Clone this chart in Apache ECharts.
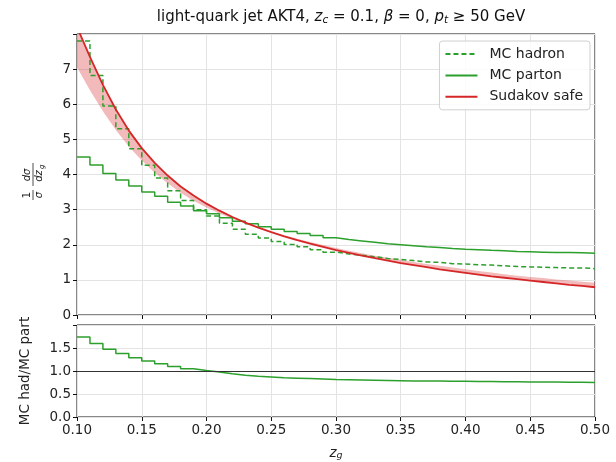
<!DOCTYPE html>
<html>
<head>
<meta charset="utf-8">
<script src="https://cdn.jsdelivr.net/npm/echarts@6/dist/echarts.min.js"></script>
<style>
  html, body { margin: 0; padding: 0; background: #fff; }
  #chart { width: 616px; height: 462px; }
</style>
</head>
<body>
<div id="chart"></div>
<script>
// bin edges / sampling points along z_g
const zEdges = [0.10, 0.11, 0.12, 0.13, 0.14, 0.15, 0.16, 0.17, 0.18, 0.19,
  0.20, 0.21, 0.22, 0.23, 0.24, 0.25, 0.26, 0.27, 0.28, 0.29,
  0.30, 0.31, 0.32, 0.33, 0.34, 0.35, 0.36, 0.37, 0.38, 0.39,
  0.40, 0.41, 0.42, 0.43, 0.44, 0.45, 0.46, 0.47, 0.48, 0.49, 0.50]

// histogram contents, one per bin
const mcHadron = [7.80, 6.82, 5.95, 5.30, 4.73, 4.26, 3.90, 3.54, 3.26, 3.00,
  2.82, 2.61, 2.44, 2.30, 2.19, 2.09, 2.01, 1.94, 1.86, 1.79,
  1.74, 1.70, 1.66, 1.61, 1.58, 1.55, 1.51, 1.50, 1.46, 1.45,
  1.43, 1.42, 1.40, 1.38, 1.37, 1.36, 1.35, 1.34, 1.34, 1.32]
const mcParton = [4.50, 4.27, 4.03, 3.84, 3.67, 3.50, 3.38, 3.21, 3.10, 2.97,
  2.88, 2.77, 2.67, 2.60, 2.51, 2.44, 2.38, 2.32, 2.26, 2.20,
  2.15, 2.11, 2.07, 2.03, 2.00, 1.97, 1.94, 1.92, 1.89, 1.87,
  1.86, 1.84, 1.83, 1.81, 1.80, 1.79, 1.78, 1.78, 1.77, 1.76]
const hadOverPart = [1.74, 1.60, 1.475, 1.38, 1.29, 1.22, 1.16, 1.10, 1.05, 1.01,
  0.98, 0.94, 0.91, 0.885, 0.87, 0.855, 0.845, 0.835, 0.825, 0.815,
  0.81, 0.805, 0.80, 0.795, 0.79, 0.785, 0.78, 0.78, 0.775, 0.775,
  0.77, 0.77, 0.765, 0.765, 0.76, 0.76, 0.76, 0.755, 0.755, 0.75]

// Sudakov safe curve and the other edge of its band, at zEdges
const sudakov = [8.20, 7.35, 6.55, 5.85, 5.25, 4.75, 4.33, 3.97, 3.66, 3.40,
  3.17, 2.97, 2.79, 2.63, 2.49, 2.36, 2.24, 2.13, 2.03, 1.94,
  1.85, 1.77, 1.69, 1.62, 1.55, 1.48, 1.42, 1.36, 1.30, 1.25,
  1.20, 1.15, 1.10, 1.06, 1.02, 0.98, 0.94, 0.90, 0.86, 0.83, 0.79]
const sudakovEdge = [7.05, 6.40, 5.80, 5.27, 4.80, 4.40, 4.05, 3.75, 3.48, 3.25,
  3.06, 2.89, 2.74, 2.61, 2.49, 2.38, 2.27, 2.17, 2.08, 1.99,
  1.91, 1.83, 1.76, 1.69, 1.63, 1.57, 1.51, 1.45, 1.40, 1.35,
  1.30, 1.25, 1.21, 1.16, 1.12, 1.08, 1.05, 1.01, 0.98, 0.95, 0.92]

const GREEN = '#2ca02c'
const RED = '#d62728'
const FONT = 'DejaVu Sans'

function steps(vals) {
  return zEdges.map((z, i) => [z, vals[Math.min(i, vals.length - 1)]])
}

const chart = echarts.init(document.getElementById('chart'))

const axisText = { fontFamily: FONT, fontSize: 13.5, color: '#222' }
const gridLine = { show: true, lineStyle: { color: '#e3e3e3', width: 1 } }

// band between the Sudakov curve and its other edge
function renderBand(params, api) {
  if (params.dataIndex !== 0) return
  const upper = zEdges.map((z, i) => api.coord([z, Math.max(sudakov[i], sudakovEdge[i])]))
  const lower = zEdges.map((z, i) => api.coord([z, Math.min(sudakov[i], sudakovEdge[i])])).reverse()
  return {
    type: 'polygon',
    shape: { points: upper.concat(lower) },
    style: { fill: 'rgba(214,39,40,0.32)', stroke: 'none' }
  }
}

chart.setOption({
  animation: false,
  textStyle: { fontFamily: FONT },
  title: {
    left: 336,
    textAlign: 'center',
    top: 4,
    text: '{n|light-quark jet AKT4, }{i|z}{s|c}{n| = 0.1, }{i|β}{n| = 0, }{i|p}{s|t}{n| ≥ 50 GeV}',
    textStyle: {
      fontWeight: 'normal',
      rich: {
        n: { fontFamily: FONT, fontSize: 15, fontWeight: 'normal', color: '#111' },
        i: { fontFamily: FONT, fontSize: 15, fontWeight: 'normal', fontStyle: 'italic', color: '#111' },
        s: { fontFamily: FONT, fontSize: 10.5, fontWeight: 'normal', fontStyle: 'italic', color: '#111', verticalAlign: 'bottom', padding: [6, 0, 0, 0] }
      }
    }
  },
  legend: {
    right: 26,
    top: 41,
    orient: 'vertical',
    data: ['MC hadron', 'MC parton', 'Sudakov safe'],
    itemWidth: 32,
    itemHeight: 14,
    itemGap: 7.4,
    padding: [6, 7, 6, 5],
    itemStyle: { opacity: 0 },
    backgroundColor: 'rgba(255,255,255,0.85)',
    borderColor: '#d0d0d0',
    borderWidth: 1,
    borderRadius: 3,
    textStyle: { fontFamily: FONT, fontSize: 14, color: '#222', padding: [0, 0, 0, 7] }
  },
  grid: [
    { left: 77, right: 21, top: 34, height: 281, show: true, borderColor: '#111', borderWidth: 1, backgroundColor: 'transparent' },
    { left: 77, right: 21, top: 325, height: 93, show: true, borderColor: '#111', borderWidth: 1, backgroundColor: 'transparent' }
  ],
  xAxis: [
    {
      type: 'value', gridIndex: 0, min: 0.10, max: 0.50, interval: 0.05,
      axisLine: { show: false },
      axisTick: { show: true, length: 4, lineStyle: { color: '#111' } },
      axisLabel: { show: false },
      splitLine: gridLine
    },
    {
      type: 'value', gridIndex: 1, min: 0.10, max: 0.50, interval: 0.05,
      axisLine: { show: false },
      axisTick: { show: true, length: 4, lineStyle: { color: '#111' } },
      axisLabel: Object.assign({ formatter: v => v.toFixed(2), margin: 6 }, axisText),
      splitLine: gridLine,
      name: '{i|z}{s|g}',
      nameLocation: 'middle',
      nameGap: 28,
      nameTextStyle: {
        rich: {
          i: { fontFamily: FONT, fontSize: 13.5, fontStyle: 'italic', color: '#222' },
          s: { fontFamily: FONT, fontSize: 9.5, fontStyle: 'italic', color: '#222', verticalAlign: 'bottom', padding: [6, 0, 0, 0] }
        }
      }
    }
  ],
  yAxis: [
    {
      type: 'value', gridIndex: 0, min: 0, max: 8, interval: 1,
      axisLine: { show: false },
      axisTick: { show: true, length: 4, lineStyle: { color: '#111' } },
      axisLabel: Object.assign({ formatter: v => (v === 8 ? '' : String(v)), margin: 6 }, axisText),
      splitLine: gridLine
    },
    {
      type: 'value', gridIndex: 1, min: 0, max: 2, interval: 0.5,
      axisLine: { show: false },
      axisTick: { show: true, length: 4, lineStyle: { color: '#111' } },
      axisLabel: Object.assign({ formatter: v => (v === 2 ? '' : v.toFixed(1)), margin: 6 }, axisText),
      splitLine: gridLine,
      name: 'MC had/MC part',
      nameLocation: 'middle',
      nameGap: 45,
      nameTextStyle: { fontFamily: FONT, fontSize: 13.5, color: '#222' }
    }
  ],
  graphic: [
    {
      type: 'group',
      x: 33,
      y: 176,
      rotation: Math.PI / 2,
      children: [
        { type: 'text', x: -19, y: -11, style: { text: '1', font: '10px DejaVu Sans', fill: '#222', align: 'center' } },
        { type: 'line', shape: { x1: -24, y1: 0, x2: -14, y2: 0 }, style: { stroke: '#222', lineWidth: 0.8 } },
        { type: 'text', x: -19, y: 1, style: { text: 'σ', font: 'italic 10px DejaVu Sans', fill: '#222', align: 'center' } },
        { type: 'text', x: 1, y: -11, style: { text: 'dσ', font: 'italic 10px DejaVu Sans', fill: '#222', align: 'center' } },
        { type: 'line', shape: { x1: -10, y1: 0, x2: 13, y2: 0 }, style: { stroke: '#222', lineWidth: 0.8 } },
        { type: 'text', x: 0, y: 1, style: { text: 'dz', font: 'italic 10px DejaVu Sans', fill: '#222', align: 'center' } },
        { type: 'text', x: 7, y: 6, style: { text: 'g', font: 'italic 7px DejaVu Sans', fill: '#222' } }
      ]
    }
  ],
  series: [
    {
      name: 'band', type: 'custom', xAxisIndex: 0, yAxisIndex: 0,
      data: zEdges.map((z, i) => [z, sudakovEdge[i]]),
      encode: { x: 0, y: 1 },
      renderItem: renderBand,
      clip: true,
      silent: true
    },
    {
      name: 'MC hadron', type: 'line', xAxisIndex: 0, yAxisIndex: 0,
      step: 'end', data: steps(mcHadron), symbol: 'none',
      itemStyle: { color: GREEN },
      lineStyle: { color: GREEN, width: 1.5, type: [5, 3] }
    },
    {
      name: 'MC parton', type: 'line', xAxisIndex: 0, yAxisIndex: 0,
      step: 'end', data: steps(mcParton), symbol: 'none',
      itemStyle: { color: GREEN },
      lineStyle: { color: GREEN, width: 1.5 }
    },
    {
      name: 'Sudakov safe', type: 'line', xAxisIndex: 0, yAxisIndex: 0,
      data: zEdges.map((z, i) => [z, sudakov[i]]), symbol: 'none',
      itemStyle: { color: RED },
      lineStyle: { color: RED, width: 1.8 }
    },
    {
      name: 'ratio', type: 'line', xAxisIndex: 1, yAxisIndex: 1,
      step: 'end', data: steps(hadOverPart), symbol: 'none',
      itemStyle: { color: GREEN },
      lineStyle: { color: GREEN, width: 1.5 },
      markLine: {
        silent: true, symbol: 'none', label: { show: false },
        lineStyle: { color: '#333', width: 1, type: 'solid' },
        data: [{ yAxis: 1 }]
      }
    }
  ]
})
</script>
</body>
</html>
